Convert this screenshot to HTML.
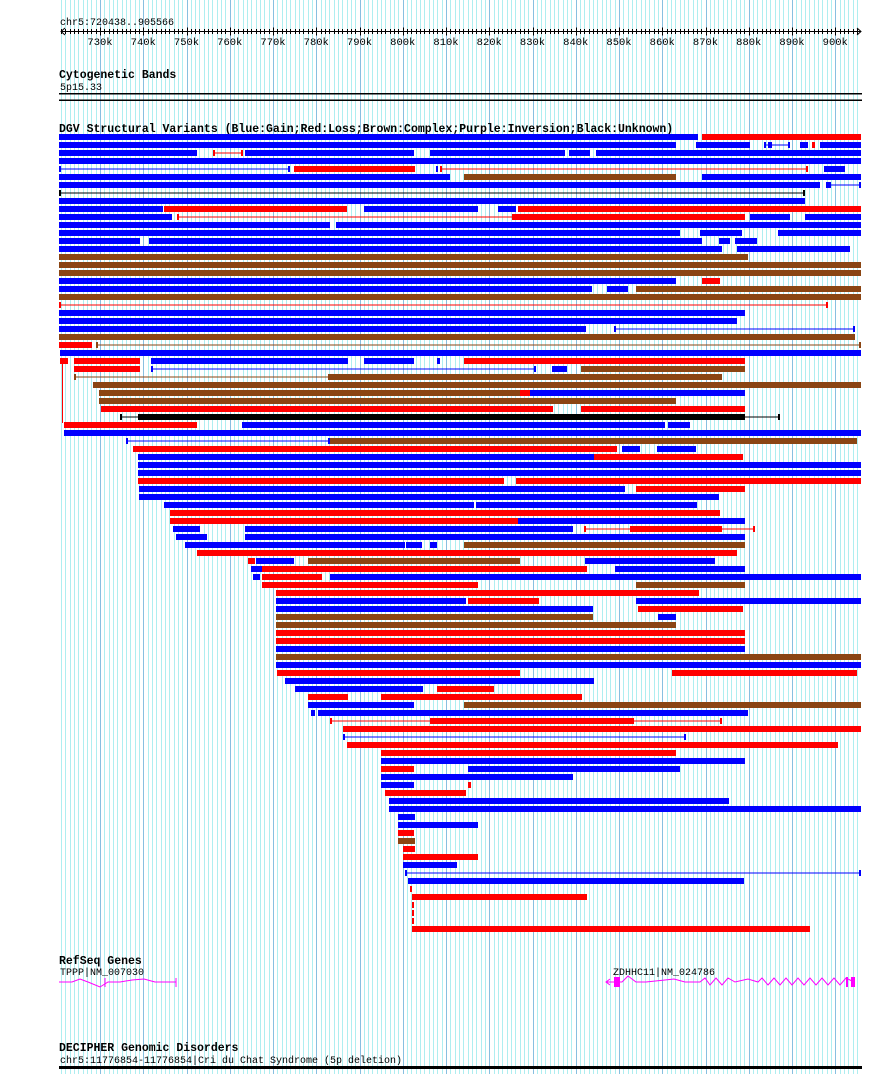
<!DOCTYPE html>
<html><head><meta charset="utf-8"><style>
html,body{margin:0;padding:0;background:#fff;}
svg{display:block;}
text{font-family:"Liberation Mono",monospace;}
</style></head><body>
<svg id="s" width="890" height="1074" xmlns="http://www.w3.org/2000/svg">
<g id="grid"></g>
<text x="60" y="25" font-size="10">chr5:720438..905566</text>
<g id="ruler" stroke="#000" stroke-width="1"></g>
<g id="tl" font-size="10.5" text-anchor="middle"></g>
<text x="59" y="78" font-size="11.5" font-weight="bold">Cytogenetic Bands</text>
<text x="60" y="90" font-size="10">5p15.33</text>
<rect x="59" y="93" width="803" height="1.5" fill="#000"/>
<rect x="59" y="99.5" width="803" height="1.5" fill="#000"/>
<text x="59" y="132" font-size="11.5" font-weight="bold">DGV Structural Variants (Blue:Gain;Red:Loss;Brown:Complex;Purple:Inversion;Black:Unknown)</text>
<g id="bars"></g>
<text x="59" y="964" font-size="11.5" font-weight="bold">RefSeq Genes</text>
<text x="60" y="975" font-size="10">TPPP|NM_007030</text>
<text x="613" y="975" font-size="10">ZDHHC11|NM_024786</text>
<g stroke="#ff00ff" fill="none" stroke-width="1">
<polyline points="59,982 72,982 80,979 88,982 100,987 108,982 120,982 132,980 144,979 155,982 167,982 176,982"/>
<line x1="176" y1="978" x2="176" y2="987"/><line x1="105" y1="978" x2="105" y2="987"/>
<polyline points="610,979 606,982 610,985"/>
<polyline points="606,982 622,982 628,976 636,982 646,982 665,980 674,979 685,982 700,982 705,978 710,985 716,978 722,985 728,978 735,982 748,979 758,982 762,978 768,985 774,978 780,985 786,978 792,985 798,978 804,985 810,978 816,985 822,978 828,985 834,978 840,985 846,978 854,982"/>
</g>
<rect x="614" y="977" width="6" height="10" fill="#ff00ff"/>
<rect x="846" y="977" width="2" height="10" fill="#ff00ff"/>
<rect x="851" y="977" width="4" height="10" fill="#ff00ff"/>
<text x="59" y="1051" font-size="11.5" font-weight="bold">DECIPHER Genomic Disorders</text>
<text x="60" y="1063" font-size="10">chr5:11776854-11776854|Cri du Chat Syndrome (5p deletion)</text>
<rect x="59" y="1066" width="803" height="3" fill="#000"/>
</svg>
<script>
var NS="http://www.w3.org/2000/svg";
function el(p,t,a){var e=document.createElementNS(NS,t);for(var k in a)e.setAttribute(k,a[k]);p.appendChild(e);return e;}
function X(k){return 100+(k-730)*4.325;}
var g=document.getElementById('grid');
for(var k=721;k<=905;k++){var x=Math.round(X(k))+0.5;el(g,'line',{x1:x,y1:0,x2:x,y2:1074,stroke:(k%10==0)?'#88bfe0':'#aeeef0','stroke-width':1});}
var r=document.getElementById('ruler');
el(r,'line',{x1:61,y1:31.5,x2:861,y2:31.5});
el(r,'polyline',{points:'65,28 61,31.5 65,35',fill:'none'});
el(r,'polyline',{points:'857,28 861,31.5 857,35',fill:'none'});
for(var k=721;k<=905;k++){var x=Math.round(X(k))+0.5;var h=(k%10==0)?4:2.5;el(r,'line',{x1:x,y1:31.5-h,x2:x,y2:31.5+h});}
var tl=document.getElementById('tl');
for(var k=730;k<=900;k+=10){var t=el(tl,'text',{x:X(k),y:45});t.textContent=k+'k';}
var B='#0000ff',R='#ff0000',N='#8b4513',K='#000000';
var rows=[
[[59,698,B],[702,861,R]],
[[59,676,B],[696,750,B],[764,790,B,1],[768,772,B],[800,808,B],[812,815,R],[820,861,B]],
[[59,197,B],[213,243,R,1],[245,414,B],[430,565,B],[569,590,B],[596,861,B]],
[[59,861,B]],
[[59,290,B,1],[294,415,R],[436,438,B],[440,808,R,1],[824,845,B]],
[[59,450,B],[464,676,N],[702,861,B]],
[[59,820,B],[826,829,B],[829,861,B,1]],
[[59,805,K,1]],
[[59,805,B]],
[[59,163,B],[164,347,R],[364,478,B],[498,516,B],[518,861,R]],
[[59,172,B],[177,514,R,1],[514,745,R],[750,790,B],[805,861,B]],
[[59,330,B],[336,861,B]],
[[59,680,B],[700,742,B],[778,861,B]],
[[59,140,B],[149,702,B],[719,730,B],[735,757,B]],
[[59,722,B],[737,850,B]],
[[59,748,N]],
[[59,861,N]],
[[59,861,N]],
[[59,676,B],[702,720,R]],
[[59,592,B],[607,628,B],[636,861,N]],
[[59,861,N]],
[[59,828,R,1]],
[[59,745,B]],
[[59,737,B]],
[[59,586,B],[614,855,B,1]],
[[59,855,N]],
[[59,92,R],[96,861,N,1]],
[[60,861,B]],
[[60,68,R],[74,140,R],[151,348,B],[364,414,B],[437,440,B],[464,745,R]],
[[74,140,R],[151,536,B,1],[552,567,B],[581,745,N]],
[[74,330,N,1],[330,722,N]],
[[93,861,N]],
[[99,520,N],[520,530,R],[530,745,B]],
[[99,676,N]],
[[101,553,R],[581,745,R]],
[[120,780,K,1],[138,745,K]],
[[64,197,R],[242,665,B],[668,690,B]],
[[64,861,B]],
[[126,330,B,1],[330,857,N]],
[[133,617,R],[622,640,B],[657,696,B]],
[[138,594,B],[594,743,R]],
[[138,861,B]],
[[138,861,B]],
[[138,504,R],[516,861,R]],
[[139,625,B],[636,745,R]],
[[139,719,B]],
[[164,474,B],[476,697,B]],
[[170,720,R]],
[[170,518,R],[518,745,B]],
[[173,200,B],[245,573,B],[584,632,R,1],[632,720,R],[720,755,R,1]],
[[176,207,B],[245,745,B]],
[[185,405,B],[406,422,B],[430,437,B],[464,745,N]],
[[197,737,R]],
[[248,255,R],[256,294,B],[308,520,N],[585,715,B]],
[[251,262,B],[262,587,R],[615,745,B]],
[[253,260,B],[262,322,R],[330,861,B]],
[[262,478,R],[636,745,N]],
[[276,699,R]],
[[276,466,B],[468,539,R],[636,861,B]],
[[276,593,B],[638,743,R]],
[[276,593,N],[658,676,B]],
[[276,676,N]],
[[276,745,R]],
[[276,745,R]],
[[276,745,B]],
[[276,861,N]],
[[276,861,B]],
[[277,520,R],[672,857,R]],
[[285,594,B]],
[[295,423,B],[437,494,R]],
[[308,348,R],[381,582,R]],
[[308,414,B],[464,861,N]],
[[311,315,B],[318,748,B]],
[[330,432,R,1],[432,632,R],[632,722,R,1]],
[[343,861,R]],
[[343,686,B,1]],
[[347,838,R]],
[[381,676,R]],
[[381,745,B]],
[[381,414,R],[468,680,B]],
[[381,573,B]],
[[381,414,B],[468,471,R]],
[[385,466,R]],
[[389,729,B]],
[[389,861,B]],
[[398,415,B]],
[[398,478,B]],
[[398,414,R]],
[[398,415,N]],
[[403,415,R]],
[[403,478,R]],
[[403,457,B]],
[[405,861,B,1],[405,407,B]],
[[408,744,B]],
[[410,412,R]],
[[412,587,R]],
[[412,414,R]],
[[412,414,R]],
[[412,414,R]],
[[412,810,R]]
];
var bg=document.getElementById('bars');
rows.forEach(function(row,i){var y=134+8*i;row.forEach(function(s){
 if(s[3]){el(bg,'rect',{x:s[0],y:y+2.5,width:s[1]-s[0],height:1,fill:s[2]});
  el(bg,'rect',{x:s[0],y:y,width:2,height:6,fill:s[2]});el(bg,'rect',{x:s[1]-2,y:y,width:2,height:6,fill:s[2]});}
 else el(bg,'rect',{x:s[0],y:y,width:Math.max(2,s[1]-s[0]),height:6,fill:s[2]});
});});
el(bg,'rect',{x:62,y:361,width:1,height:62,fill:R});
</script>
</body></html>
